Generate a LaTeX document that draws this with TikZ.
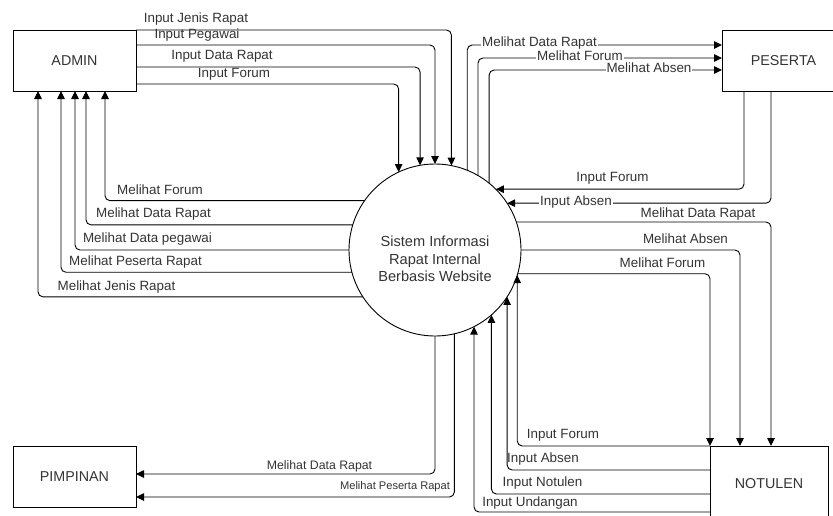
\documentclass[tikz,border=0pt]{standalone}
\usepackage{fontspec}
\setmainfont{Liberation Sans}
\usetikzlibrary{arrows.meta}

\tikzset{
  entitas/.style={draw, minimum width=123pt, minimum height=61pt, inner sep=0pt, outer sep=0pt, text=black!80, font=\fontsize{14.3}{17}\selectfont},
  proses/.style={draw, circle, minimum size=172pt, inner sep=0pt, outer sep=0pt},
  alir/.style={draw, line width=0.9pt, rounded corners=5pt, -{Triangle[length=8pt,width=7.5pt]}},
  ket/.style={inner sep=1pt, text=black!80, font=\fontsize{13.4}{16}\selectfont},
  ketgaris/.style={ket, fill=white},
}

\begin{document}
\begin{tikzpicture}[x=1pt,y=-1pt]
    \useasboundingbox (0,0) rectangle (833,515);

    %entitas
    \node[entitas] (admin) at (74.5,60.5) {ADMIN};
    \node[entitas] (pimpinan) at (74.5,476.5) {PIMPINAN};
    \node[entitas] (peserta) at (783.5,60.5) {PESERTA};
    \node[entitas, minimum width=118pt, minimum height=76pt] (notulen) at (769,484) {NOTULEN};

    %proses
    \node[proses, line width=0.9pt] (sys) at (435,250) {};
    \node[align=center, text=black!80, font=\fontsize{14.6}{17.5}\selectfont] (systxt) at (435,259) {Sistem Informasi\\Rapat Internal\\Berbasis Website};

    %admin ke sistem
    \foreach \y/\a/\t/\lx/\ly [count=\i] in {30/79.3/Input Jenis Rapat/196/19, 45/90/Input Pegawai/197/35, 67/100.7/Input Data Rapat/222/56, 84/115.5/Input Forum/234/74}{
        \draw[alir] (admin.east |- 0,\y) -| (sys.\a);
        \node[ket] (ai\i) at (\lx,\ly) {\t};
    }

    %sistem ke admin
    \foreach \a/\x/\t/\lx/\ly [count=\i] in {145.3/105/Melihat Forum/160/190, 163.1/86/Melihat Data Rapat/153.5/214, 180/75/Melihat Data pegawai/147.5/239, 195.5/61/Melihat Peserta Rapat/135.5/262, 213.9/38/Melihat Jenis Rapat/116.5/287}{
        \draw[alir] (sys.\a) -| (admin.south -| \x,0);
        \node[ket] (ao\i) at (\lx,\ly) {\t};
    }

    %sistem ke peserta
    \foreach \a/\y/\t/\lx/\ly [count=\i] in {68.9/45/Melihat Data Rapat/539.5/43, 60.8/58/Melihat Forum/580/56, 51.1/70/Melihat Absen/649/68}{
        \draw[alir] (sys.\a) |- (peserta.west |- 0,\y);
        \node[ketgaris] (po\i) at (\lx,\ly) {\t};
    }

    %peserta ke sistem
    \draw[alir] (peserta.south -| 744,0) |- (sys.45.2);
    \node[ket] (pi1) at (612.5,178) {Input Forum};
    \draw[alir] (peserta.south -| 771,0) |- (sys.33.9);
    \node[ketgaris] (pi2) at (576,202) {Input Absen};

    %sistem ke notulen
    \draw[alir] (sys.19.7) -| (notulen.north -| 771,0);
    \node[ketgaris] (no1) at (698,214) {Melihat Data Rapat};
    \foreach \a/\x/\t/\lx/\ly [count=\i from 2] in {-0.7/740/Melihat Absen/685.5/239, -16.9/710/Melihat Forum/662.5/263}{
        \draw[alir] (sys.\a) -| (notulen.north -| \x,0);
        \node[ket] (no\i) at (\lx,\ly) {\t};
    }

    %notulen ke sistem
    \foreach \y/\a/\t/\lx/\ly [count=\i] in {446/-17.6/Input Forum/563/435, 470/-33.2/Input Absen/543/459, 494/-49.4/Input Notulen/542.5/483, 512/-63.8/Input Undangan/530/503}{
        \draw[alir] (notulen.west |- 0,\y) -| (sys.\a);
        \node[ket] (ni\i) at (\lx,\ly) {\t};
    }

    %sistem ke pimpinan
    \draw[alir] (sys.-90) |- (pimpinan.east |- 0,474);
    \node[ket, font=\fontsize{12.3}{14}\selectfont] (mo1) at (319.5,466) {Melihat Data Rapat};
    \draw[alir] (sys.-77.9) |- (pimpinan.east |- 0,497);
    \node[ket, font=\fontsize{11.1}{13}\selectfont] (mo2) at (395,487) {Melihat Peserta Rapat};
\end{tikzpicture}
\end{document}
